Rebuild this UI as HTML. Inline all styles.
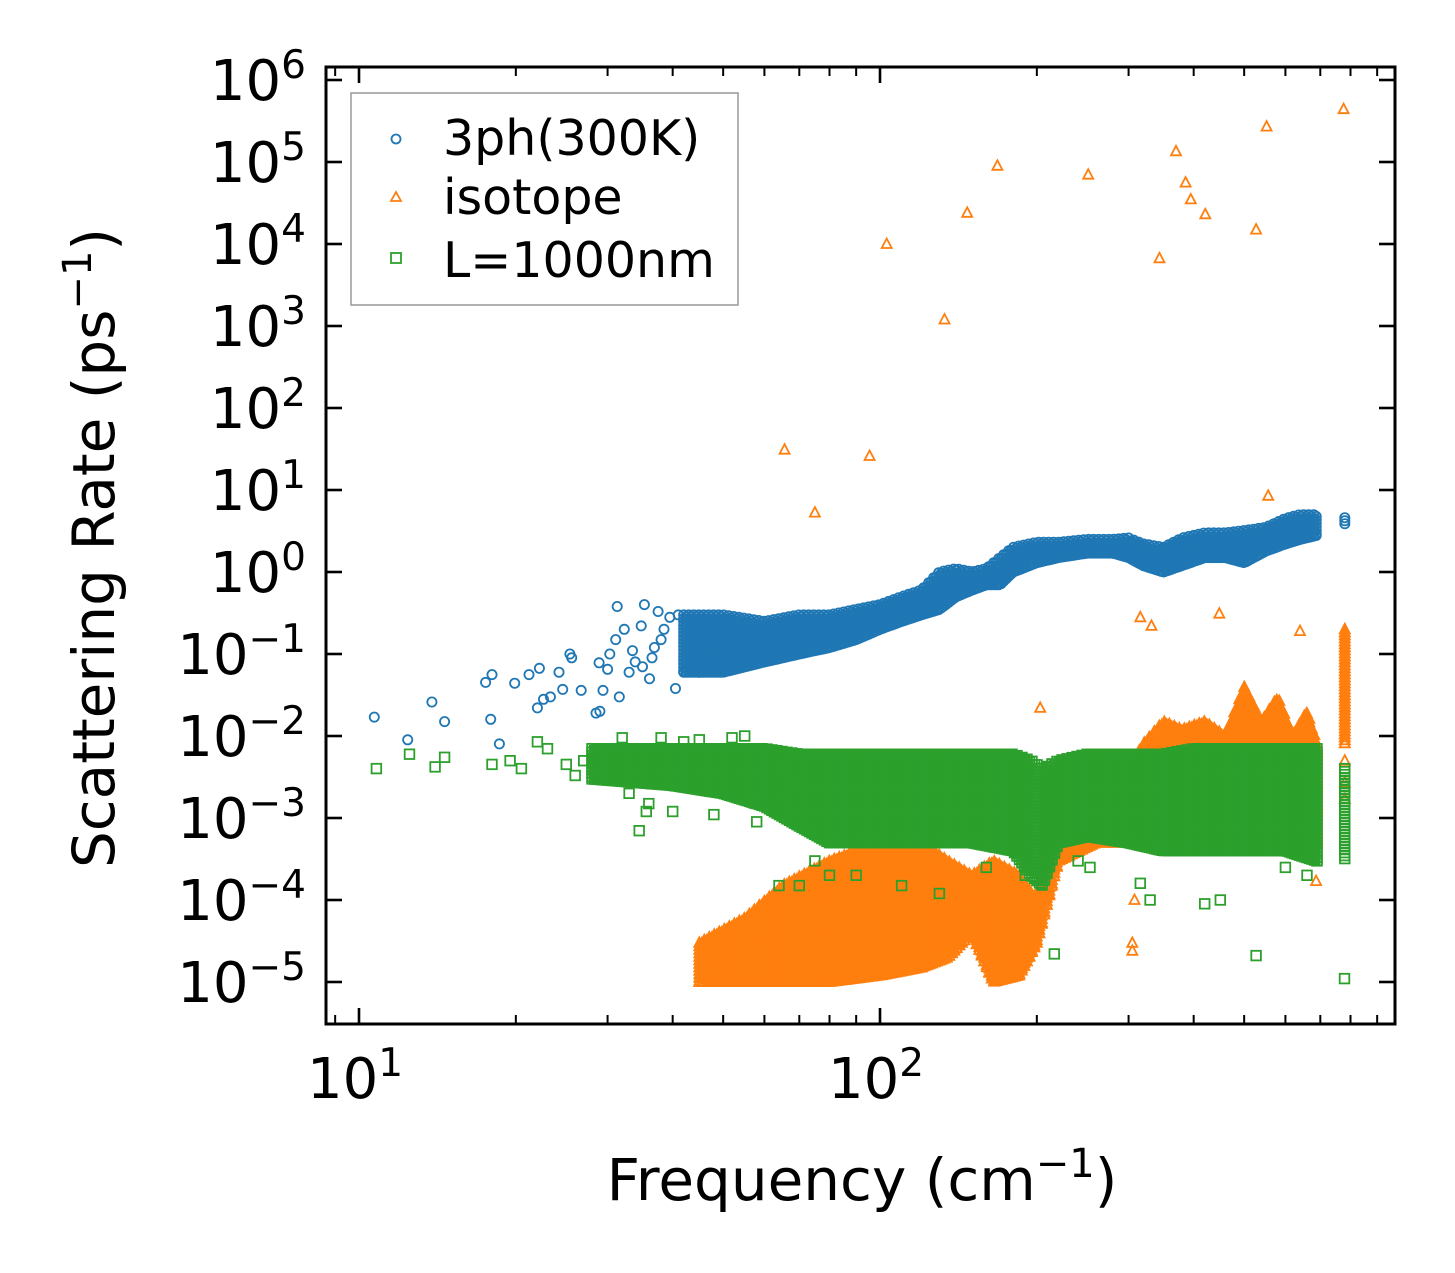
<!DOCTYPE html>
<html><head><meta charset="utf-8"><style>
html,body{margin:0;padding:0;background:#fff}
svg{display:block}
text{font-family:"DejaVu Sans","Liberation Sans",sans-serif;fill:#000}
</style></head><body>
<svg id="chart" width="1455" height="1273" viewBox="0 0 1455 1273" xmlns="http://www.w3.org/2000/svg">
<rect x="0" y="0" width="1455" height="1273" fill="#fff"/>
<g id="marks"></g>
<g id="axes"></g>
<text transform="translate(114,548) rotate(-90)" text-anchor="middle" font-size="58">Scattering Rate (ps<tspan baseline-shift="super" font-size="40">−1</tspan>)</text>
<text x="862" y="1200" text-anchor="middle" font-size="58">Frequency (cm<tspan baseline-shift="super" font-size="40">−1</tspan>)</text>
<g>
<rect x="351" y="93" width="387" height="212" fill="#fff" stroke="#999" stroke-width="1.5"/>
<circle cx="396" cy="139" r="4.5" fill="none" stroke="#1f77b4" stroke-width="1.8"/>
<text x="443" y="155" font-size="49">3ph(300K)</text>
<path d="M396,192 l5,9 h-10 z" fill="none" stroke="#ff7f0e" stroke-width="1.8"/>
<text x="443" y="214" font-size="49">isotope</text>
<rect x="391" y="253" width="10" height="10" fill="none" stroke="#2ca02c" stroke-width="1.8"/>
<text x="443" y="277" font-size="49">L=1000nm</text>
</g>
</svg>
<script>
// ---- data ----
const xTickLabels = ["10","10"];
const xTickExps = ["1","2"];
const yTickExps = ["6","5","4","3","2","1","0","−1","−2","−3","−4","−5"];
const yTickValues = [1e6,1e5,1e4,1e3,1e2,1e1,1,1e-1,1e-2,1e-3,1e-4,1e-5];
// sparse 3ph points [freq, rate]
const phFreq = [10.7,12.4,13.8,14.6,17.5,18.0,17.9,18.6,19.9,21.2,22.0,22.2,22.6,23.3,24.6,25.4,25.6,26.7,24.2,28.5,28.9,29.4,30.3,31.1,31.6,32.3,33,33.9,34.8,35.3,36.1,36.9,38,39.5,40.5,31.3,37.5,29.0,30.0,33.5,35.0,36.5,38.5,41,43,45];
const phRate = [0.017,0.009,0.026,0.015,0.045,0.056,0.016,0.008,0.044,0.056,0.022,0.067,0.028,0.03,0.037,0.1,0.09,0.036,0.06,0.019,0.078,0.036,0.1,0.15,0.03,0.2,0.06,0.08,0.22,0.4,0.05,0.12,0.15,0.28,0.038,0.38,0.33,0.02,0.065,0.11,0.07,0.09,0.2,0.3,0.07,0.06];
// dense 3ph band envelope
const phBandF  = [42,50,60,70,80,90,100,110,120,130,140,150,160,170,180,200,220,250,280,300,320,350,380,420,460,500,550,600,640,690];
const phBandLo = [0.06,0.06,0.08,0.1,0.12,0.15,0.2,0.25,0.3,0.35,0.5,0.6,0.7,0.7,1.0,1.3,1.5,1.7,1.7,1.5,1.2,1.0,1.2,1.5,1.5,1.3,1.8,2.2,2.5,2.8];
const phBandHi = [0.3,0.3,0.25,0.3,0.3,0.35,0.4,0.5,0.6,1.0,1.1,1.0,1.1,1.5,2.0,2.3,2.3,2.5,2.5,2.6,2.2,2.0,2.6,3.0,3.0,3.2,3.5,4.5,5.0,5.0];
const phClusterF = [780]; const phClusterLo=[3.6]; const phClusterHi=[4.6];
// isotope sparse
const isoFreq = [65.6,75,95.5,103,133,147,168,251,344,370,386,395,421,527,552,776,556,316,332,448,640,203,305,305,308,687,780,780,315,780];
const isoRate = [31,5.3,26,1e4,1200,2.4e4,9e4,7e4,6.7e3,1.35e5,5.6e4,3.5e4,2.3e4,1.5e4,2.7e5,4.4e5,8.5,0.28,0.22,0.31,0.19,0.022,3e-5,2.4e-5,1e-4,1.7e-4,0.005,0.0027,0.0006,0.0017];
// isotope dense envelope
const isoBandF  = [45,55,65,80,100,120,135,150,165,185,200,220,260,300,320,350,380,420,460,500,540,580,620,660,690];
const isoBandLo = [1e-5,1e-5,1e-5,1e-5,1.2e-5,1.5e-5,2e-5,4e-5,1e-5,1.2e-5,3e-5,3e-4,5e-4,5e-4,5e-4,5e-4,5e-4,5e-4,5e-4,5e-4,5e-4,5e-4,5e-4,5e-4,5e-4];
const isoBandHi = [3e-5,6e-5,1.5e-4,3e-4,5e-4,5e-4,3e-4,2e-4,3e-4,2e-4,1e-4,2e-3,3e-3,4e-3,8e-3,1.5e-2,1.2e-2,1.5e-2,1e-2,4e-2,1.5e-2,3e-2,1e-2,2e-2,8e-3];
const isoClusterF=[780]; const isoClusterLo=[0.008]; const isoClusterHi=[0.2];
// boundary sparse
const bFreq = [10.8,12.5,14,14.6,18,19.5,20.5,22,23,25,26,27,216,527,779,420,316,253,34.5,35.6,38,45,52,33,36,40,48,58,64,70,75,80,90,110,130,160,190,240,330,450,600,660,32,42,55];
const bRate = [0.004,0.006,0.0042,0.0055,0.0045,0.005,0.004,0.0085,0.007,0.0045,0.0033,0.005,2.2e-5,2.1e-5,1.1e-5,9e-5,1.6e-4,2.5e-4,7e-4,1.2e-3,0.0095,0.009,0.0095,0.002,0.0015,0.0012,0.0011,0.0009,0.00015,0.00015,0.0003,0.0002,0.0002,0.00015,0.00012,0.00025,0.0002,0.0003,0.0001,0.0001,0.00025,0.0002,0.0095,0.0085,0.01];
// boundary dense envelope
const bBandF  = [28,40,50,60,70,80,100,120,150,180,195,205,220,250,300,350,400,500,600,690];
const bBandLo = [0.003,0.0025,0.002,0.0014,0.0008,0.0005,0.0005,0.0005,0.0005,0.0004,0.0002,0.00015,0.0005,0.0006,0.0005,0.0004,0.0004,0.0004,0.0004,0.0003];
const bBandHi = [0.007,0.007,0.007,0.007,0.006,0.006,0.006,0.006,0.006,0.006,0.005,0.004,0.005,0.006,0.006,0.006,0.007,0.007,0.007,0.007];
const bClusterF=[780]; const bClusterLo=[0.0003]; const bClusterHi=[0.004];

// ---- axes functions ----
const X0=359, XD=521, Y0=80, YD=82;
const L=326, R=1395, T=67, B=1024;
function xs(f){return X0+XD*(Math.log10(f)-1);}
function ys(v){return Y0+YD*(6-Math.log10(v));}
const NS="http://www.w3.org/2000/svg";
const marks=document.getElementById('marks');
const axes=document.getElementById('axes');
function mk(tag,attrs,parent){const e=document.createElementNS(NS,tag);for(const k in attrs)e.setAttribute(k,attrs[k]);parent.appendChild(e);return e;}

function marker(kind,f,v,g){
  const x=xs(f),y=ys(v);
  let e;
  if(kind==='ph'){e=mk('circle',{cx:x.toFixed(1),cy:y.toFixed(1),r:4.6,fill:'none',stroke:'#1f77b4','stroke-width':1.8},g);}
  else if(kind==='iso'){e=mk('path',{d:`M${x.toFixed(1)},${(y-5.5).toFixed(1)} l5,9.5 h-10 z`,fill:'none',stroke:'#ff7f0e','stroke-width':1.8},g);}
  else {e=mk('rect',{x:(x-4.8).toFixed(1),y:(y-4.8).toFixed(1),width:9.6,height:9.6,fill:'none',stroke:'#2ca02c','stroke-width':1.8},g);}
  return e;
}
function interp(F,A,f){
  const lf=Math.log10(f);
  if(lf<=Math.log10(F[0]))return A[0];
  for(let i=0;i<F.length-1;i++){
    const a=Math.log10(F[i]),b=Math.log10(F[i+1]);
    if(lf>=a&&lf<=b){const t=(lf-a)/(b-a);return Math.pow(10,Math.log10(A[i])*(1-t)+Math.log10(A[i+1])*t);}
  }
  return A[A.length-1];
}
function band(kind,F,LO,HI,g,dx,dy){
  const x1=xs(F[0]),x2=xs(F[F.length-1]);
  let k=0;
  for(let x=x1;x<=x2+0.1;x+=dx){
    const f=Math.pow(10,1+(x-X0)/XD);
    const lo=interp(F,LO,f),hi=interp(F,HI,f);
    const yTop=ys(hi),yBot=ys(lo);
    const off=(k%2)*dy/2; k++;
    for(let y=yTop+off;y<=yBot;y+=dy){
      const v=Math.pow(10,6-(y-Y0)/YD);
      marker(kind,f,v,g);
    }
    marker(kind,f,lo,g);
  }
}
function cluster(kind,F,LO,HI,g){
  for(let i=0;i<F.length;i++){
    const yT=ys(HI[i]),yB=ys(LO[i]);
    for(let y=yT;y<=yB;y+=3){const v=Math.pow(10,6-(y-Y0)/YD);marker(kind,F[i],v,g);}
  }
}
const gPh=mk('g',{},marks);


const gIso=mk('g',{},marks);


const gB=mk('g',{},marks);



for(let i=0;i<phFreq.length;i++){const m=marker('ph',phFreq[i],phRate[i],gPh);

}
band('ph',phBandF,phBandLo,phBandHi,gPh,2.5,3.5);
cluster('ph',phClusterF,phClusterLo,phClusterHi,gPh);

band('iso',isoBandF,isoBandLo,isoBandHi,gIso,2.5,3.5);
cluster('iso',isoClusterF,isoClusterLo,isoClusterHi,gIso);
for(let i=0;i<isoFreq.length;i++){const m=marker('iso',isoFreq[i],isoRate[i],gIso);

}

band('b',bBandF,bBandLo,bBandHi,gB,2.5,3.5);
cluster('b',bClusterF,bClusterLo,bClusterHi,gB);
for(let i=0;i<bFreq.length;i++){const m=marker('b',bFreq[i],bRate[i],gB);

}

// ---- axes drawing ----
const frame=mk('rect',{x:L,y:T,width:R-L,height:B-T,fill:'none',stroke:'#000','stroke-width':3},axes);


for(let d=0;d<3;d++){
  for(let m=1;m<10;m++){
    const f=Math.pow(10,d)*m; const x=xs(f);
    if(x<L||x>R)continue;
    const len=m===1?16:9;
    const t1=mk('line',{x1:x,x2:x,y1:B,y2:B-len,stroke:'#000','stroke-width':m===1?2.6:2},axes);
    
    
    const t2=mk('line',{x1:x,x2:x,y1:T,y2:T+len,stroke:'#000','stroke-width':m===1?2.6:2},axes);
    
    
  }
}
for(let i=0;i<xTickLabels.length;i++){
  const x=xs(Math.pow(10,i+1));
  const t=mk('text',{x:x-4,y:1098,'text-anchor':'middle','font-size':56},axes);
  
  
  t.textContent=xTickLabels[i];
  const s=mk('tspan',{'baseline-shift':'super','font-size':39},t);
  s.textContent=xTickExps[i];
}
for(let i=0;i<yTickValues.length;i++){
  const y=ys(yTickValues[i]);
  const a=mk('line',{x1:L,x2:L+16,y1:y,y2:y,stroke:'#000','stroke-width':2.6},axes);
  
  
  const b=mk('line',{x1:R,x2:R-16,y1:y,y2:y,stroke:'#000','stroke-width':2.6},axes);
  
  
  const t=mk('text',{x:306,y:y+20,'text-anchor':'end','font-size':56},axes);
  
  
  t.textContent='10';
  const s=mk('tspan',{'baseline-shift':'super','font-size':39},t);
  s.textContent=yTickExps[i];
}
</script>
</body></html>
